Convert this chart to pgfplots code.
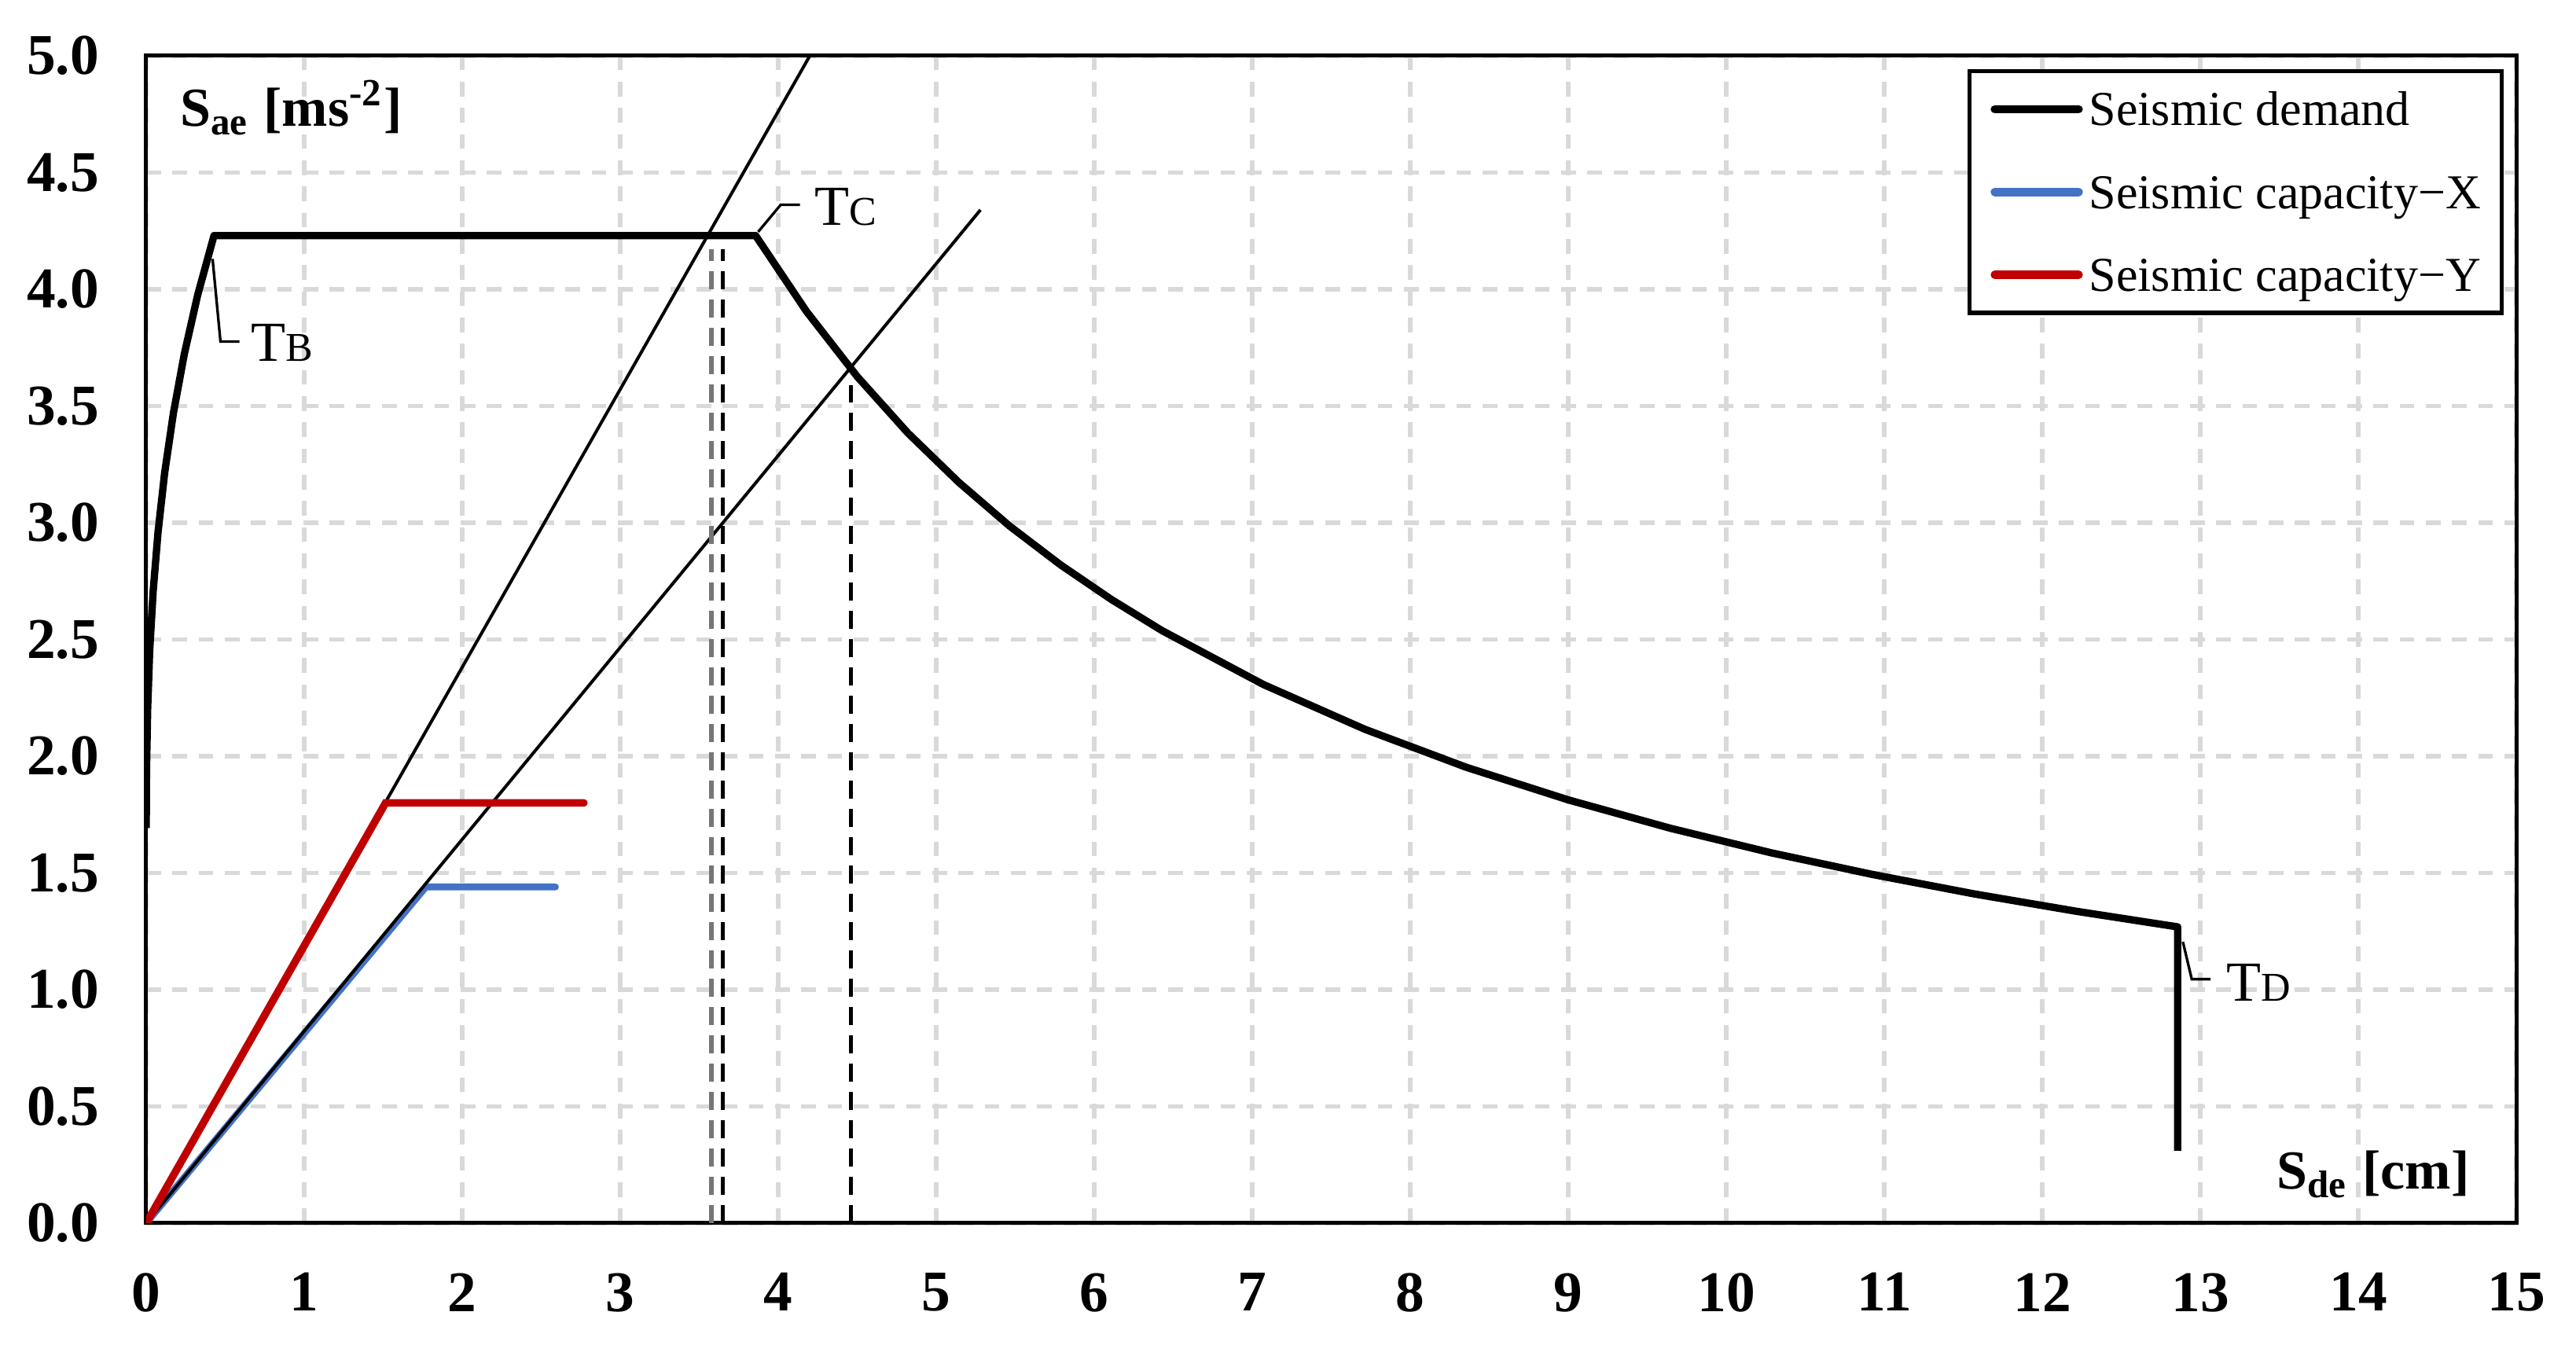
\documentclass[border=0pt]{standalone}
\usepackage{fontspec}
\setmainfont{Liberation Serif}
\usepackage{pgfplots}
\pgfplotsset{compat=1.18}

\definecolor{capx}{HTML}{4472C4}
\definecolor{capy}{HTML}{C00000}
\definecolor{gridgray}{HTML}{D9D9D9}
\definecolor{dashgray}{HTML}{767676}

% T with a small capital index, as in TB, TC, TD
\newcommand{\per}[1]{{\fontsize{10.8}{12}\selectfont T}{\fontsize{7.8}{9}\selectfont #1}}

\begin{document}
\begin{tikzpicture}
\begin{axis}[
  scale only axis, width=452.25pt, height=222.75pt,
  xmin=0, xmax=15, ymin=0, ymax=5,
  xtick={0,1,2,3,4,5,6,7,8,9,10,11,12,13,14,15},
  ytick={0,0.5,1,1.5,2,2.5,3,3.5,4,4.5,5},
  yticklabel style={/pgf/number format/fixed, /pgf/number format/fixed zerofill,
    /pgf/number format/precision=1, xshift=-5.5pt},
  /pgf/number format/assume math mode=true,
  tick label style={font=\fontsize{11}{13}\selectfont\bfseries, black},
  xticklabel style={yshift=-6pt},
  major tick length=0pt,
  grid=major,
  major grid style={gridgray, line width=0.8pt, dash pattern=on 2.8pt off 2.2pt},
  axis line style={black, line width=0.75pt},
  legend cell align=left,
  legend style={at={(rel axis cs:0.9947,0.9886)}, anchor=north east,
    draw=black, line width=0.8pt, inner xsep=4pt, inner ysep=2.9pt,
    font=\fontsize{9.3}{11}\selectfont, row sep=7.1pt, column sep=1.2pt,
    nodes={inner sep=0pt, text height=7.5pt, text depth=1.2pt}},
  legend image code/.code={\draw[#1, line width=1.6pt, line cap=round] (0pt,0pt) -- (16pt,0pt);},
]

% seismic demand (ADRS)
\addplot[black, line width=1.4pt, line join=round] coordinates {
  (0,1.692) (0.002,1.946) (0.009,2.200) (0.022,2.453) (0.044,2.707)
  (0.075,2.961) (0.117,3.215) (0.172,3.469) (0.241,3.722) (0.326,3.976)
  (0.429,4.230) (3.857,4.230) (4.179,3.905) (4.500,3.626) (4.821,3.384)
  (5.143,3.173) (5.464,2.986) (5.786,2.820) (6.107,2.672) (6.429,2.538)
  (7.071,2.307) (7.714,2.115) (8.357,1.952) (9.000,1.813) (9.643,1.692)
  (10.286,1.586) (10.929,1.493) (11.571,1.410) (12.214,1.336) (12.857,1.269)
  (12.857,0.31)};
\addlegendentry{Seismic demand}

\addplot[capx, line width=1.3pt, line cap=round] coordinates {(0,0) (1.77,1.44) (2.59,1.44)};
\addlegendentry{Seismic capacity−X}

% period lines through the capacity yield points
\addplot[black, line width=0.6pt, forget plot] coordinates {(0,0) (4.2,5.0)};
\addplot[black, line width=0.6pt, forget plot] coordinates {(0,0) (5.28,4.34)};

\addplot[capy, line width=1.45pt, line cap=round] coordinates {(0,0) (1.515,1.80) (2.77,1.80)};
\addlegendentry{Seismic capacity−Y}

% vertical projections
\addplot[dashgray, line width=0.8pt, dash pattern=on 3.4pt off 2pt, forget plot] coordinates {(3.577,0) (3.577,4.17)};
\addplot[black, line width=0.8pt, dash pattern=on 3.4pt off 2pt, forget plot] coordinates {(3.649,0) (3.649,4.17)};
\addplot[black, line width=0.8pt, dash pattern=on 3.4pt off 2pt, forget plot] coordinates {(4.459,0) (4.459,3.59)};

% corner periods
\draw[black, line width=0.5pt] (axis cs:0.42,4.13) -- (axis cs:0.47,3.776) -- (axis cs:0.59,3.776);
\node[anchor=west, inner sep=0pt] at (axis cs:0.66,3.77) {\per{B}};
\draw[black, line width=0.5pt] (axis cs:3.873,4.246) -- (axis cs:4.016,4.362) -- (axis cs:4.137,4.362);
\node[anchor=west, inner sep=0pt] at (axis cs:4.226,4.353) {\per{C}};
\draw[black, line width=0.5pt] (axis cs:12.89,1.205) -- (axis cs:12.946,1.045) -- (axis cs:13.065,1.045);
\node[anchor=west, inner sep=0pt] at (axis cs:13.16,1.03) {\per{D}};

% axis titles inside the frame
\node[anchor=base west, inner sep=0pt] at (axis cs:0.21,4.697)
  {\fontsize{10.5}{12}\selectfont\bfseries S\textsubscript{ae} [ms\textsuperscript{-2}]};
\node[anchor=base east, inner sep=0pt] at (axis cs:14.71,0.146)
  {\fontsize{10.5}{12}\selectfont\bfseries S\textsubscript{de} [cm]};
\end{axis}
\pgfresetboundingbox
\path[use as bounding box] ([xshift=-27.9pt,yshift=-23.1pt]current axis.south west)
  rectangle ([xshift=11.4pt,yshift=10.65pt]current axis.north east);
\end{tikzpicture}
\end{document}
